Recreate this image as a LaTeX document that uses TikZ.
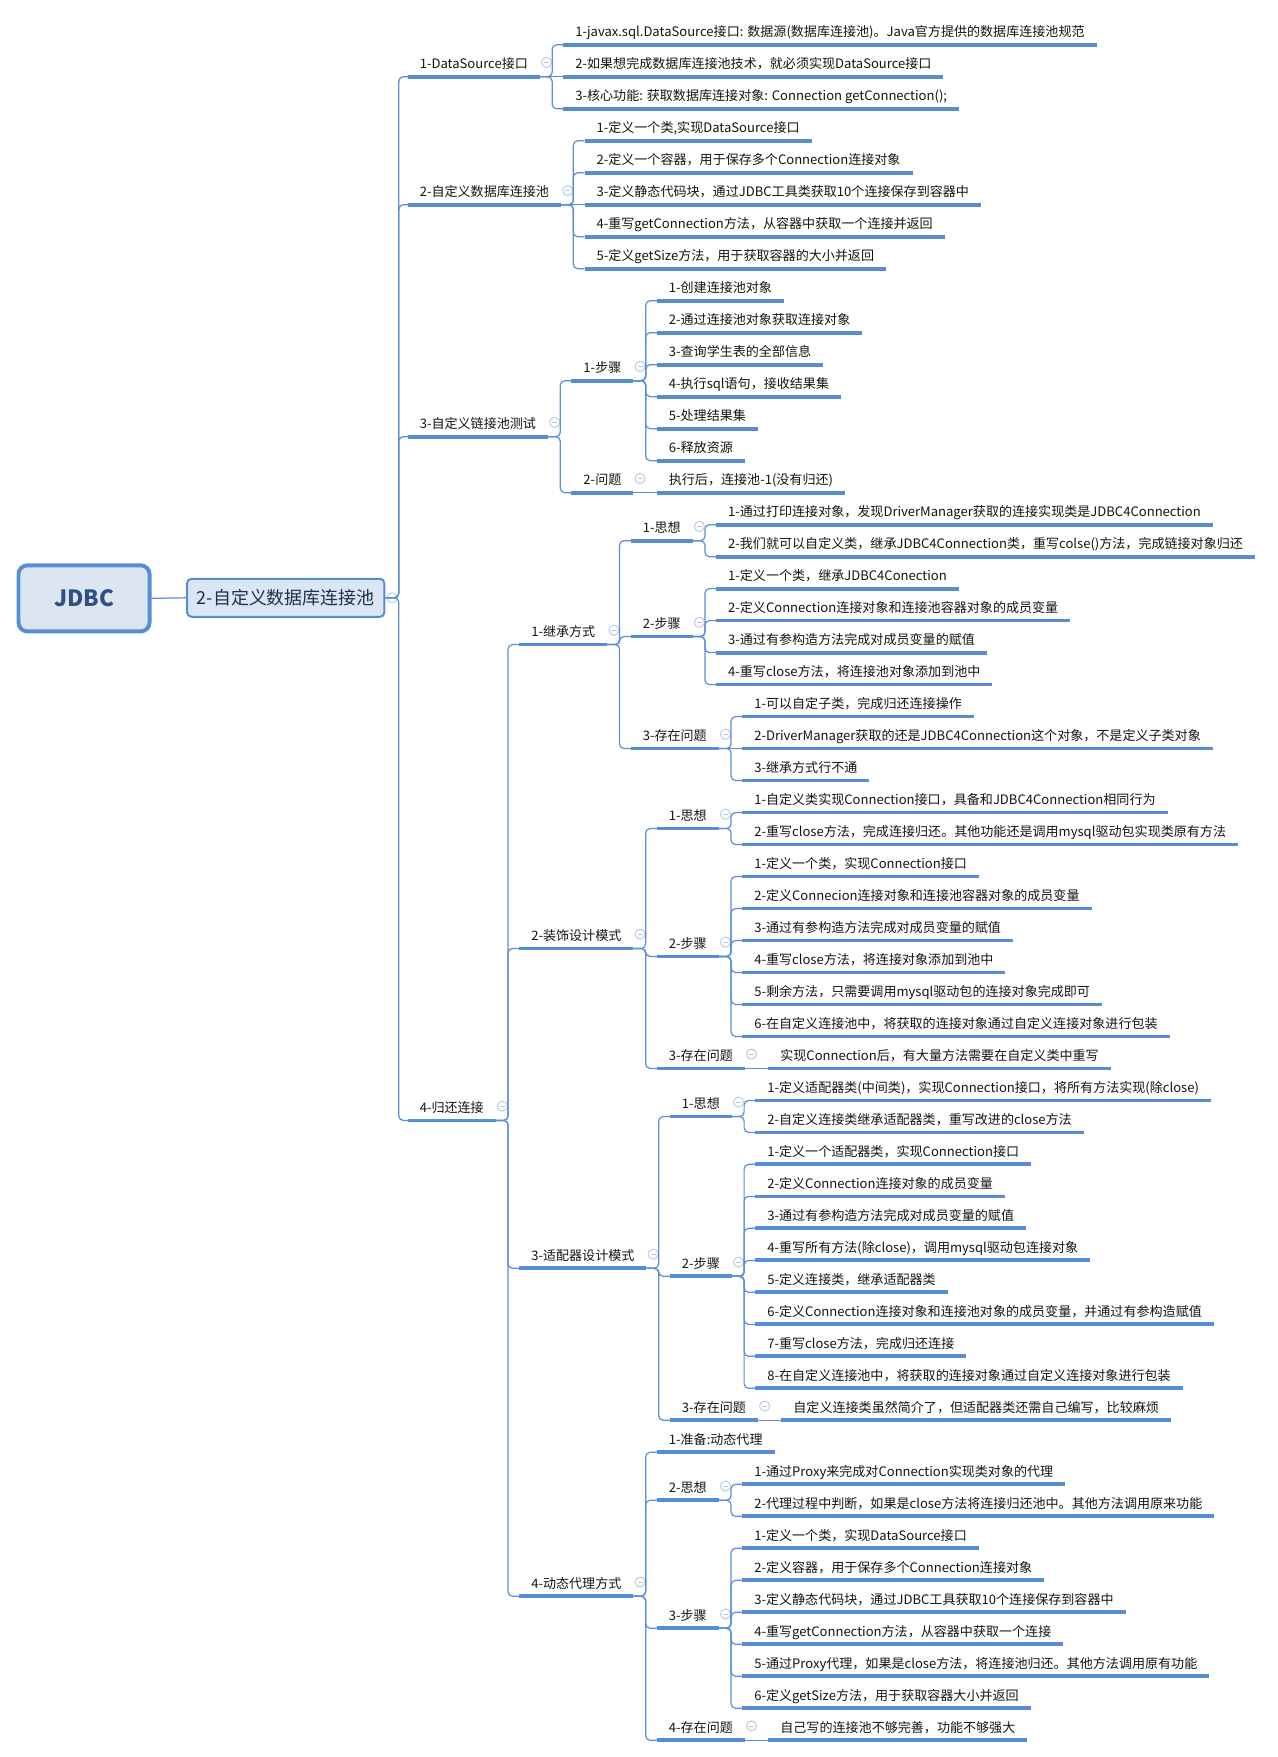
\documentclass[tikz,border=0pt]{standalone}
\usepackage{fontspec}
\setmainfont{Noto Sans CJK SC}
\usetikzlibrary{calc}
\definecolor{ulblue}{HTML}{558ED5}
\definecolor{lnblue}{HTML}{5B8FD6}
\definecolor{iconblue}{HTML}{B4C7E7}
\definecolor{boxfill}{HTML}{DCE6F2}
\definecolor{roottext}{HTML}{2E5085}
\definecolor{l1text}{HTML}{1E3050}
\definecolor{txt}{HTML}{141414}
\tikzset{
  item/.style={anchor=south west, inner xsep=10.5pt, inner ysep=4.5pt,
    text height=9.5pt, text depth=2.5pt, font=\fontsize{11.65}{14}\selectfont, text=txt},
  ul/.style={draw=ulblue, line width=3.4pt},
  conn/.style={draw=lnblue, line width=1.1pt, rounded corners=4pt},
  icon/.style={circle, draw=iconblue, fill=white, line width=0.8pt, minimum size=9pt, inner sep=0pt,
    path picture={\draw[iconblue, line width=0.8pt]
      ([xshift=-2.3pt]path picture bounding box.center) -- ([xshift=2.3pt]path picture bounding box.center);}},
  rootbox/.style={draw=ulblue, line width=3.5pt, fill=boxfill, rounded corners=8pt,
    minimum width=117pt, minimum height=59pt, font=\fontsize{20}{24}\selectfont\bfseries, text=roottext},
  lonebox/.style={draw=ulblue, line width=1.8pt, fill=boxfill, rounded corners=4pt,
    minimum width=176pt, minimum height=34pt, font=\fontsize{16}{19}\selectfont, text=l1text}
}
% child of a level-1 box
\newcommand\lkid[3]{%
  \node[item, xshift=20pt] (#1) at (L1.east |- 0,#2) {#3};
  \draw[ul] (#1.south west) -- (#1.south east);
  \draw[conn] (L1.east) -- ++(12pt,0) |- (#1.south west);
}
% child with a bent connector
\newcommand\kid[4]{%
  \node[item, xshift=21pt] (#2) at (#1.south east |- 0,#3) {#4};
  \draw[ul] (#2.south west) -- (#2.south east);
  \draw[conn] (#1.south east) -- ++(11pt,0) |- (#2.south west);
}
% child on the same line as its parent
\newcommand\kidS[4]{%
  \node[item, xshift=21pt] (#2) at (#1.south east |- 0,#3) {#4};
  \draw[ul] (#2.south west) -- (#2.south east);
  \draw[conn] (#1.south east) -- (#2.south west);
}
\newcommand\icn[1]{\node[icon] at ([xshift=6pt,yshift=2pt]#1.east) {};}
\begin{document}
\begin{tikzpicture}[x=1pt,y=-1pt]
\useasboundingbox (0,0) rectangle (1140,1568);
\node[rootbox] (root) at (75,534) {JDBC};
\node[lonebox] (L1) at (255,533.5) {2-自定义数据库连接池};
\draw[conn] (root.east) -- (L1.west);
\node[icon] at ([xshift=6pt]L1.east) {};

% ---------- level 2
\lkid{A}{68.5}{1-DataSource接口}
\lkid{B}{182.7}{2-自定义数据库连接池}
\lkid{C}{389.7}{3-自定义链接池测试}
\lkid{D}{999.9}{4-归还连接}
\icn{A}\icn{B}\icn{C}\icn{D}

% ---------- A
\kid{A}{r0}{40.0}{1-javax.sql.DataSource接口: 数据源(数据库连接池)。Java官方提供的数据库连接池规范}
\kidS{A}{r1}{68.5}{2-如果想完成数据库连接池技术，就必须实现DataSource接口}
\kid{A}{r2}{97.1}{3-核心功能: 获取数据库连接对象: Connection getConnection();}

% ---------- B
\kid{B}{r3}{125.6}{1-定义一个类,实现DataSource接口}
\kid{B}{r4}{154.2}{2-定义一个容器，用于保存多个Connection连接对象}
\kidS{B}{r5}{182.7}{3-定义静态代码块，通过JDBC工具类获取10个连接保存到容器中}
\kid{B}{r6}{211.3}{4-重写getConnection方法，从容器中获取一个连接并返回}
\kid{B}{r7}{239.8}{5-定义getSize方法，用于获取容器的大小并返回}

% ---------- C
\kid{C}{C1}{339.75}{1-步骤}
\kid{C}{C2}{439.7}{2-问题}
\icn{C1}\icn{C2}
\kid{C1}{r8}{268.4}{1-创建连接池对象}
\kid{C1}{r9}{296.9}{2-通过连接池对象获取连接对象}
\kid{C1}{r10}{325.5}{3-查询学生表的全部信息}
\kid{C1}{r11}{354.0}{4-执行sql语句，接收结果集}
\kid{C1}{r12}{382.6}{5-处理结果集}
\kid{C1}{r13}{411.1}{6-释放资源}
\kidS{C2}{r14}{439.7}{执行后，连接池-1(没有归还)}

% ---------- D
\kid{D}{D1}{575.25}{1-继承方式}
\kid{D}{D2}{846.45}{2-装饰设计模式}
\kid{D}{D3}{1131.9}{3-适配器设计模式}
\kid{D}{D4}{1424.55}{4-动态代理方式}
\icn{D1}\icn{D2}\icn{D3}\icn{D4}

% D1
\kid{D1}{D11}{482.5}{1-思想}
\kid{D1}{D12}{568.1}{2-步骤}
\kid{D1}{D13}{668.0}{3-存在问题}
\icn{D11}\icn{D12}\icn{D13}
\kid{D11}{r15}{468.2}{1-通过打印连接对象，发现DriverManager获取的连接实现类是JDBC4Connection}
\kid{D11}{r16}{496.8}{2-我们就可以自定义类，继承JDBC4Connection类，重写colse()方法，完成链接对象归还}
\kid{D12}{r17}{525.3}{1-定义一个类，继承JDBC4Conection}
\kid{D12}{r18}{553.8}{2-定义Connection连接对象和连接池容器对象的成员变量}
\kid{D12}{r19}{582.4}{3-通过有参构造方法完成对成员变量的赋值}
\kid{D12}{r20}{610.9}{4-重写close方法，将连接池对象添加到池中}
\kid{D13}{r21}{639.5}{1-可以自定子类，完成归还连接操作}
\kidS{D13}{r22}{668.0}{2-DriverManager获取的还是JDBC4Connection这个对象，不是定义子类对象}
\kid{D13}{r23}{696.6}{3-继承方式行不通}

% D2
\kid{D2}{D21}{739.4}{1-思想}
\kid{D2}{D22}{853.6}{2-步骤}
\kid{D2}{D23}{953.5}{3-存在问题}
\icn{D21}\icn{D22}\icn{D23}
\kid{D21}{r24}{725.1}{1-自定义类实现Connection接口，具备和JDBC4Connection相同行为}
\kid{D21}{r25}{753.7}{2-重写close方法，完成连接归还。其他功能还是调用mysql驱动包实现类原有方法}
\kid{D22}{r26}{782.2}{1-定义一个类，实现Connection接口}
\kid{D22}{r27}{810.8}{2-定义Connecion连接对象和连接池容器对象的成员变量}
\kid{D22}{r28}{839.3}{3-通过有参构造方法完成对成员变量的赋值}
\kid{D22}{r29}{867.9}{4-重写close方法，将连接对象添加到池中}
\kid{D22}{r30}{896.4}{5-剩余方法，只需要调用mysql驱动包的连接对象完成即可}
\kid{D22}{r31}{925.0}{6-在自定义连接池中，将获取的连接对象通过自定义连接对象进行包装}
\kidS{D23}{r32}{953.5}{实现Connection后，有大量方法需要在自定义类中重写}

% D3
\kid{D3}{D31}{996.35}{1-思想}
\kid{D3}{D32}{1139.05}{2-步骤}
\kid{D3}{D33}{1267.5}{3-存在问题}
\icn{D31}\icn{D32}\icn{D33}
\kid{D31}{r33}{982.1}{1-定义适配器类(中间类)，实现Connection接口，将所有方法实现(除close)}
\kid{D31}{r34}{1010.6}{2-自定义连接类继承适配器类，重写改进的close方法}
\kid{D32}{r35}{1039.1}{1-定义一个适配器类，实现Connection接口}
\kid{D32}{r36}{1067.7}{2-定义Connection连接对象的成员变量}
\kid{D32}{r37}{1096.2}{3-通过有参构造方法完成对成员变量的赋值}
\kid{D32}{r38}{1124.8}{4-重写所有方法(除close)，调用mysql驱动包连接对象}
\kid{D32}{r39}{1153.3}{5-定义连接类，继承适配器类}
\kid{D32}{r40}{1181.9}{6-定义Connection连接对象和连接池对象的成员变量，并通过有参构造赋值}
\kid{D32}{r41}{1210.4}{7-重写close方法，完成归还连接}
\kid{D32}{r42}{1239.0}{8-在自定义连接池中，将获取的连接对象通过自定义连接对象进行包装}
\kidS{D33}{r43}{1267.5}{自定义连接类虽然简介了，但适配器类还需自己编写，比较麻烦}

% D4
\kid{D4}{D41}{1296.1}{1-准备:动态代理}
\kid{D4}{D42}{1338.9}{2-思想}
\kid{D4}{D43}{1453.05}{3-步骤}
\kid{D4}{D44}{1553.0}{4-存在问题}
\icn{D42}\icn{D43}\icn{D44}
\kid{D42}{r45}{1324.6}{1-通过Proxy来完成对Connection实现类对象的代理}
\kid{D42}{r46}{1353.2}{2-代理过程中判断，如果是close方法将连接归还池中。其他方法调用原来功能}
\kid{D43}{r47}{1381.7}{1-定义一个类，实现DataSource接口}
\kid{D43}{r48}{1410.3}{2-定义容器，用于保存多个Connection连接对象}
\kid{D43}{r49}{1438.8}{3-定义静态代码块，通过JDBC工具获取10个连接保存到容器中}
\kid{D43}{r50}{1467.4}{4-重写getConnection方法，从容器中获取一个连接}
\kid{D43}{r51}{1495.9}{5-通过Proxy代理，如果是close方法，将连接池归还。其他方法调用原有功能}
\kid{D43}{r52}{1524.4}{6-定义getSize方法，用于获取容器大小并返回}
\kidS{D44}{r53}{1553.0}{自己写的连接池不够完善，功能不够强大}
\end{tikzpicture}
\end{document}
